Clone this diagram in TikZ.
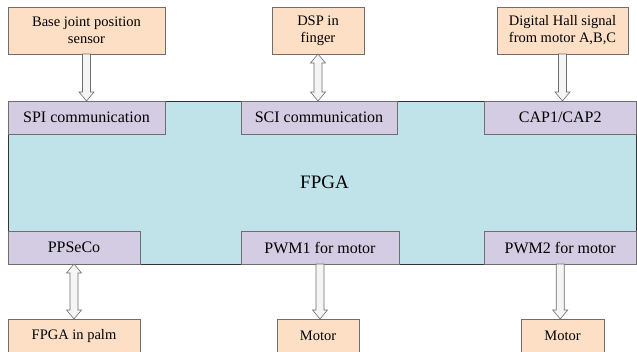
\documentclass[tikz,border=0pt]{standalone}
\usepackage{fontspec}
\setmainfont{Liberation Serif}
\usetikzlibrary{calc}

\definecolor{peach}{RGB}{252,223,196}
\definecolor{lilac}{RGB}{211,204,226}
\definecolor{fpgablue}{RGB}{192,226,233}
\definecolor{edgegray}{RGB}{110,110,110}

\tikzset{
  extbox/.style={draw=edgegray,fill=peach,line width=0.7pt,inner sep=0pt,outer sep=0pt,
    align=center,font=\fontsize{14.5}{17}\selectfont},
  portbox/.style={draw=edgegray,fill=lilac,line width=0.7pt,inner sep=0pt,outer sep=0pt,
    minimum height=33pt,font=\fontsize{16}{18}\selectfont},
  hollow/.style={draw=edgegray,fill=gray!8,line width=0.6pt,line join=miter}
}

% block arrow pointing down, from #1 to #2
\newcommand{\flowdown}[2]{%
  \draw[hollow] let \p1=(#1.south), \p2=(#2.north) in
    (\x1-4pt,\y1) -- (\x1+4pt,\y1) -- (\x1+4pt,\y2+9pt) -- (\x1+7.5pt,\y2+9pt)
    -- (\x1,\y2) -- (\x1-7.5pt,\y2+9pt) -- (\x1-4pt,\y2+9pt) -- cycle;}
% block arrow with heads at both ends
\newcommand{\flowboth}[2]{%
  \draw[hollow] let \p1=(#1.south), \p2=(#2.north) in
    (\x1,\y1) -- (\x1+7.5pt,\y1-9pt) -- (\x1+4pt,\y1-9pt) -- (\x1+4pt,\y2+9pt)
    -- (\x1+7.5pt,\y2+9pt) -- (\x1,\y2) -- (\x1-7.5pt,\y2+9pt) -- (\x1-4pt,\y2+9pt)
    -- (\x1-4pt,\y1-9pt) -- (\x1-7.5pt,\y1-9pt) -- cycle;}

\begin{document}
\begin{tikzpicture}[x=1pt,y=-1pt]
  \useasboundingbox (0,0) rectangle (637,352);

  % FPGA body
  \node [draw=black!80,fill=fpgablue,line width=0.7pt,inner sep=0pt,minimum width=628.5pt,
    minimum height=163pt,font=\fontsize{19}{21}\selectfont] (fpga) at (322.25,182.5) {};
  \node (fpgalabel) at (324.5,182) {\fontsize{19}{21}\selectfont FPGA};

  % ports on the FPGA
  \node [portbox,minimum width=157pt] (spi) at (86.5,117.5) {SPI communication};
  \node [portbox,minimum width=156pt] (sci) at (319,117.5) {SCI communication};
  \node [portbox,minimum width=152.5pt] (cap) at (560.25,117.5) {CAP1/CAP2};
  \node [portbox,minimum width=132pt] (ppseco) at (74,247.5) {PPSeCo};
  \node [portbox,minimum width=158pt] (pwmone) at (320,247.5) {PWM1 for motor};
  \node [portbox,minimum width=152.5pt] (pwmtwo) at (560.25,247.5) {PWM2 for motor};

  % outside blocks
  \node [extbox,minimum width=157pt,minimum height=47pt] (bjs) at (86.5,30.5) {Base joint position\\sensor};
  \node [extbox,minimum width=92pt,minimum height=47pt] (dsp) at (318,30.5) {DSP in\\finger};
  \node [extbox,minimum width=131pt,minimum height=47pt] (hall) at (562.5,30.5) {Digital Hall signal\\from motor A,B,C};
  \node [extbox,minimum width=132pt,minimum height=34pt] (palm) at (74,336) {FPGA in palm};
  \node [extbox,minimum width=82pt,minimum height=34pt] (motorone) at (318,336) {Motor};
  \node [extbox,minimum width=83pt,minimum height=34pt] (motortwo) at (562.5,336) {Motor};

  % links
  \flowdown{bjs}{spi}
  \flowboth{dsp}{sci}
  \flowdown{hall}{cap}
  \flowboth{ppseco}{palm}
  \flowdown{pwmone}{motorone}
  \flowdown{pwmtwo}{motortwo}
\end{tikzpicture}
\end{document}
